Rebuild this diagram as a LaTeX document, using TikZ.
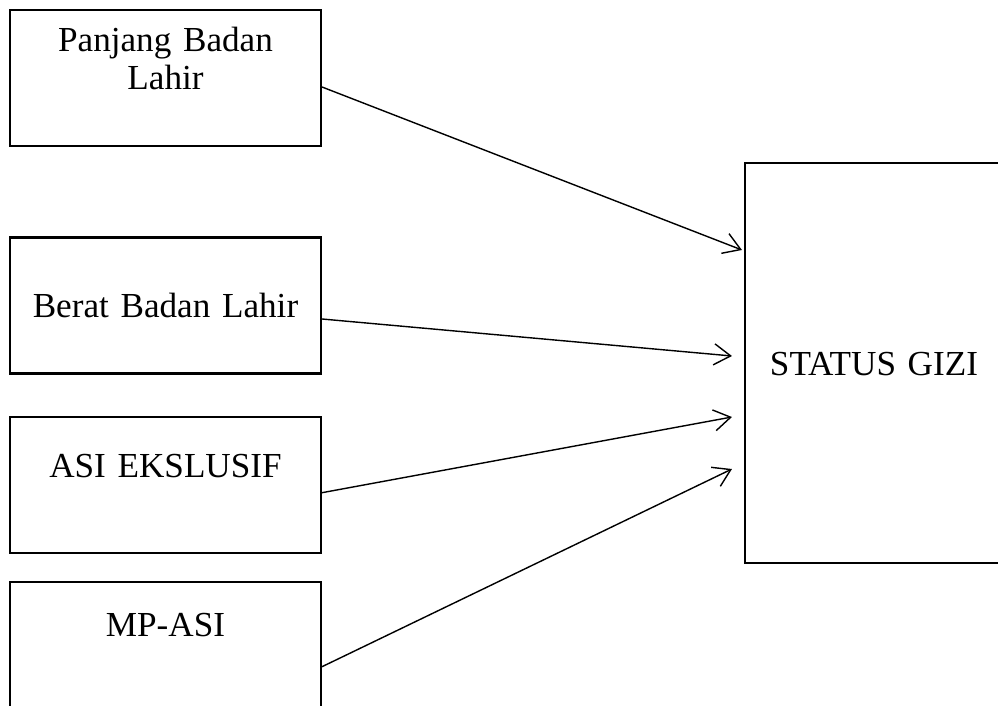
\documentclass[tikz,border=0pt]{standalone}
\usepackage{fontspec}
\setmainfont{Liberation Serif}
\usetikzlibrary{arrows.meta,calc}

\tikzset{
  box/.style={draw, line width=1.2pt, minimum width=6.22cm, minimum height=2.72cm, inner sep=0pt},
  lbl/.style={anchor=base, inner sep=0pt, align=center, text width=6cm,
    font=\fontsize{20}{21.5}\selectfont},
  link/.style={line width=0.8pt, -{Straight Barb[length=9.5pt, width=12pt, line width=0.8pt]}}
}

\begin{document}
\begin{tikzpicture}[x=0.02cm, y=-0.02cm]

      \useasboundingbox (0,0) rectangle (998,706);
      \clip (0,0) rectangle (998,706);

      % boxes
      \node[box] (panjang) at (165.5,78)    {};
      \node[box] (berat)   at (165.5,305.5) {};
      \node[box] (asi)     at (165.5,484.7) {};
      \node[box] (mpasi)   at (165.5,650)   {};
      \node[box, minimum width=5.16cm, minimum height=8cm] (gizi) at (874,363) {};

      % texts
      \node[lbl] (tpanjang) at (165.5,51.7)  {Panjang Badan\\Lahir};
      \node[lbl] (tberat)   at (165.5,317.7) {Berat Badan Lahir};
      \node[lbl] (tasi)     at (165.5,477.3) {ASI EKSLUSIF};
      \node[lbl] (tmpasi)   at (165.5,636.7) {MP-ASI};
      \node[lbl] (tgizi)    at (874,375)     {STATUS GIZI};

      % arrows
      \draw[link] ($(panjang.east)+(0,9)$) -- ($(gizi.west)+(-2,-113)$);
      \draw[link] ($(berat.east)+(0,13.5)$) -- ($(gizi.west)+(-12,-7)$);
      \draw[link] ($(asi.east)+(0,8)$)      -- ($(gizi.west)+(-12,54)$);
      \draw[link] ($(mpasi.east)+(0,16.7)$) -- ($(gizi.west)+(-12,106)$);

    \end{tikzpicture}
\end{document}
